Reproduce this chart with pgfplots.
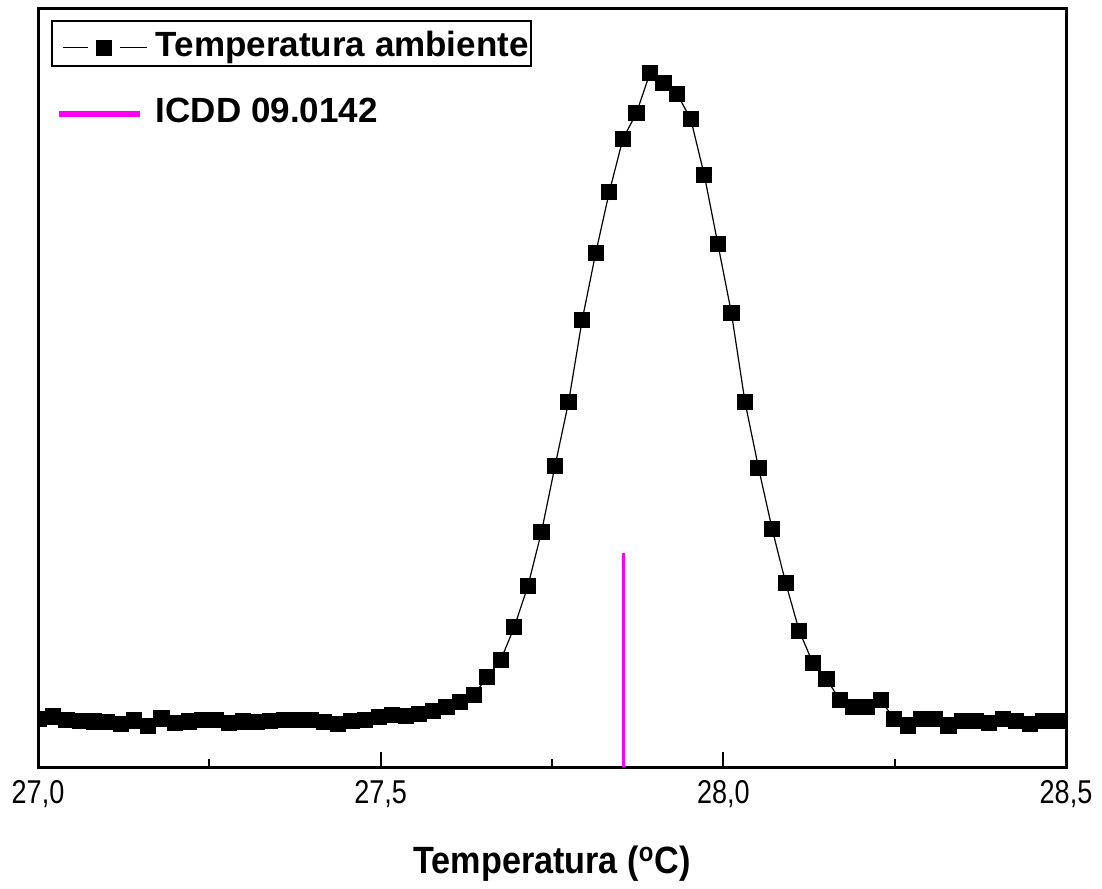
\documentclass[border=0pt]{standalone}
\usepackage{fontspec}
\setmainfont{Liberation Sans}
\newfontfamily\narrowfont[FakeStretch=0.82]{Liberation Sans}
\newfontfamily\titlefont[FakeStretch=0.9]{Liberation Sans}
\usepackage{pgfplots}
\pgfplotsset{compat=1.18}
\definecolor{icdd}{RGB}{255,0,255}
\pgfplotsset{
  amblegend/.style={legend image code/.code={%
    \path (0pt,0pt);
    \draw[##1, mark=none, line width=0.5pt] (2pt,0pt) -- (14.5pt,0pt) (30.5pt,0pt) -- (44pt,0pt);
    \draw[##1, only marks] plot coordinates {(22.25pt,0pt)};}},
  icddlegend/.style={legend image code/.code={\draw[##1, line width=3pt] (0pt,0pt) -- (40.5pt,0pt);}}
}
\pgfplotstableread{
x h
27.0020 48
27.0218 50.5
27.0416 47
27.0614 46
27.0812 45.5
27.1010 45
27.1208 43
27.1406 46.5
27.1604 41.3
27.1802 48.5
27.2000 44
27.2198 45.5
27.2396 47
27.2594 47
27.2792 44
27.2990 45.5
27.3188 45
27.3386 46
27.3584 47
27.3782 47
27.3980 47
27.4178 45
27.4376 43
27.4574 46
27.4772 47
27.4970 50
27.5168 52
27.5366 51
27.5564 53
27.5762 56
27.5960 60
27.6158 65
27.6356 72
27.6554 90
27.6752 107
27.6950 140
27.7148 181
27.7346 235
27.7544 301
27.7742 365
27.7940 447
27.8138 514
27.8336 575
27.8534 628
27.8732 654
27.8930 694
27.9128 684
27.9326 673
27.9524 648
27.9722 592
27.9920 523
28.0118 454
28.0316 365
28.0514 299
28.0712 238
28.0910 184
28.1108 136
28.1306 104
28.1504 88
28.1702 67
28.1900 60
28.2098 60
28.2296 67
28.2494 48
28.2692 41.5
28.2890 48
28.3088 48
28.3286 41.5
28.3484 46
28.3682 46
28.3880 44
28.4078 48
28.4276 46
28.4474 43
28.4672 46
28.4870 46
}\ambient
\begin{document}
\begin{tikzpicture}
\begin{axis}[
 name=ax,
 scale only axis,
 width=514pt, height=379pt,
 xmin=27, xmax=28.5, ymin=0, ymax=758,
 axis line style={line width=1.5pt},
 xtick={27,27.5,28,28.5},
 xticklabels={{27,0},{27,5},{28,0},{28,5}},
 minor xtick={27.25,27.75,28.25},
 ytick=\empty,
 tick pos=left,
 tick align=inside,
 major tick length=7.5pt, minor tick length=4pt,
 every tick/.style={black, line width=1pt},
 ticklabel style={font=\narrowfont\fontsize{16.5}{18}\selectfont},
 xticklabel style={yshift=-3pt},
 xlabel={Temperatura (\textsuperscript{o}C)},
 xlabel style={font=\titlefont\bfseries\fontsize{19}{22}\selectfont, at={(axis description cs:0.5,0)}, anchor=center, yshift=-48.5pt},
 clip marker paths=true,
 legend style={at={(rel axis cs:0,1)}, anchor=north west, xshift=9pt, yshift=-11pt, draw=none, fill=none, inner sep=0pt, row sep=16.8pt, column sep=4pt, font=\bfseries\fontsize{17.5}{19}\selectfont, nodes={inner sep=0pt, text height=12.5pt, text depth=4pt}},
 legend cell align=left,
]
\addplot[black, line width=0.6pt, mark=square*, mark size=3.75pt, mark options={solid, fill=black}, amblegend]
  table[x=x, y=h] {\ambient};
\addlegendentry{Temperatura ambiente}
\addplot[icdd, line width=1.5pt, icddlegend]
  coordinates {(27.854,0) (27.854,214)};
\addlegendentry{ICDD 09.0142}
\draw[line width=0.6pt] ([xshift=7pt,yshift=-6pt]rel axis cs:0,1) rectangle ([xshift=246.5pt,yshift=-28.5pt]rel axis cs:0,1);
\end{axis}
\path[use as bounding box] ([xshift=-19pt,yshift=-58.5pt]ax.south west) rectangle ([xshift=18pt,yshift=4.5pt]ax.north east);
\end{tikzpicture}
\end{document}
